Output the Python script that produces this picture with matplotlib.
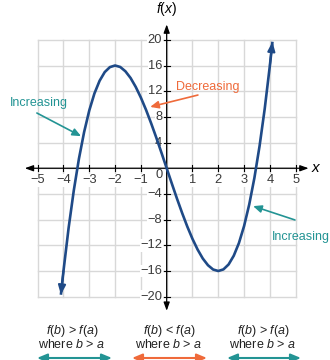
import matplotlib
matplotlib.use("Agg")
import matplotlib.pyplot as plt

plt.rcParams['font.family'] = ['Liberation Sans', 'DejaVu Sans']
plt.rcParams['mathtext.fontset'] = 'custom'
plt.rcParams['mathtext.it'] = 'Liberation Sans:italic'
plt.rcParams['mathtext.rm'] = 'Liberation Sans'

# Data
curve_x = [-4.1, -4.0, -3.8, -3.6, -3.4, -3.2, -3.0, -2.8, -2.6, -2.4, -2.2, -2.0,
           -1.8, -1.6, -1.4, -1.2, -1.0, -0.8, -0.6, -0.4, -0.2, 0.0,
           0.2, 0.4, 0.6, 0.8, 1.0, 1.2, 1.4, 1.6, 1.8, 2.0,
           2.2, 2.4, 2.6, 2.8, 3.0, 3.2, 3.4, 3.6, 3.8, 4.0, 4.1]
curve_y = [-19.7, -16.0, -9.27, -3.46, 1.50, 5.63, 9.0, 11.65, 13.62, 14.98, 15.75, 16.0,
           15.77, 15.10, 14.06, 12.67, 11.0, 9.09, 6.98, 4.74, 2.39, 0.0,
           -2.39, -4.74, -6.98, -9.09, -11.0, -12.67, -14.06, -15.10, -15.77, -16.0,
           -15.75, -14.98, -13.62, -11.65, -9.0, -5.63, -1.50, 3.46, 9.27, 16.0, 19.7]

x_ticks = [-5, -4, -3, -2, -1, 1, 2, 3, 4, 5]
y_ticks = [-20, -16, -12, -8, -4, 4, 8, 12, 16, 20]
grid_x = [-5, -4, -3, -2, -1, 0, 1, 2, 3, 4, 5]
grid_y = [-20, -16, -12, -8, -4, 0, 4, 8, 12, 16, 20]

bottom_line1 = ["$f$($b$) > $f$($a$)", "$f$($b$) < $f$($a$)", "$f$($b$) > $f$($a$)"]
bottom_line2 = ["where $b$ > $a$", "where $b$ > $a$", "where $b$ > $a$"]

navy = '#1f4a87'
teal = '#239494'
orange = '#ef6a3a'
grey = '#d8d8d8'

fig = plt.figure(figsize=(3.3, 3.6), dpi=100)
ax = fig.add_axes([0, 0, 1, 1])
ax.set_xlim(-6.46, 6.33)
ax.set_ylim(-29.86, 26.2)
ax.axis('off')

# grid
for gx in grid_x:
    ax.plot([gx, gx], [-20, 20], color=grey, lw=1, zorder=1)
for gy in grid_y:
    ax.plot([-5, 5], [gy, gy], color=grey, lw=1, zorder=1)

# axes with arrows
ax.annotate('', xy=(5.5, 0), xytext=(-5.5, 0),
            arrowprops=dict(arrowstyle='<|-|>,head_length=0.5,head_width=0.18',
                            color='black', lw=0.9, shrinkA=0, shrinkB=0), zorder=3)
ax.annotate('', xy=(0, 22.4), xytext=(0, -22.2),
            arrowprops=dict(arrowstyle='<|-|>,head_length=0.5,head_width=0.18',
                            color='black', lw=0.9, shrinkA=0, shrinkB=0), zorder=3)
for t in x_ticks:
    ax.plot([t, t], [-0.45, 0.45], color='black', lw=0.8, zorder=3)
for t in y_ticks:
    ax.plot([-0.12, 0.12], [t, t], color='black', lw=0.8, zorder=3)

fs = 9.3
for t in x_ticks:
    lab = str(t).replace('-', '\u2212')
    ax.text(t, -1.9, lab, ha='center', va='center', fontsize=fs, color='#3a3a3a',
            zorder=2, bbox=dict(facecolor='white', edgecolor='none', pad=0.3))
for t in y_ticks:
    lab = str(t).replace('-', '\u2212')
    ax.text(-0.17, t, lab, ha='right', va='center', fontsize=fs, color='#3a3a3a',
            zorder=2, bbox=dict(facecolor='white', edgecolor='none', pad=0.3))
ax.text(-0.17, -1.1, '0', ha='right', va='center', fontsize=fs, color='#3a3a3a', zorder=2)

ax.text(0.0, 23.4, '$f$($x$)', ha='center', va='bottom', fontsize=10, color='black')
ax.text(5.6, 0.1, '$x$', ha='left', va='center', fontsize=11, color='black')

# curve
ax.plot(curve_x, curve_y, color=navy, lw=1.9, zorder=4, solid_capstyle='butt')
ax.annotate('', xy=(curve_x[-1], curve_y[-1]), xytext=(curve_x[-2], curve_y[-2]),
            arrowprops=dict(arrowstyle='-|>,head_length=0.55,head_width=0.22',
                            color=navy, lw=1.5, shrinkA=0, shrinkB=0), zorder=5)
ax.annotate('', xy=(curve_x[0], curve_y[0]), xytext=(curve_x[1], curve_y[1]),
            arrowprops=dict(arrowstyle='-|>,head_length=0.55,head_width=0.22',
                            color=navy, lw=1.5, shrinkA=0, shrinkB=0), zorder=5)

# annotations
fa = 9
ax.text(-4.96, 10.2, 'Increasing', ha='center', va='center', fontsize=fa, color=teal, zorder=6)
ax.annotate('', xy=(-3.32, 5.0), xytext=(-5.03, 8.6),
            arrowprops=dict(arrowstyle='-|>,head_length=0.5,head_width=0.22',
                            color=teal, lw=1.2, shrinkA=0, shrinkB=0), zorder=6)
ax.text(1.6, 12.65, 'Decreasing', ha='center', va='center', fontsize=fa, color=orange, zorder=6)
ax.annotate('', xy=(-0.64, 9.55), xytext=(1.21, 11.4),
            arrowprops=dict(arrowstyle='-|>,head_length=0.5,head_width=0.22',
                            color=orange, lw=1.2, shrinkA=0, shrinkB=0), zorder=6)
ax.text(4.08, -10.7, 'Increasing', ha='left', va='center', fontsize=fa, color=teal, zorder=6)
ax.annotate('', xy=(3.35, -5.9), xytext=(4.97, -8.05),
            arrowprops=dict(arrowstyle='-|>,head_length=0.5,head_width=0.22',
                            color=teal, lw=1.2, shrinkA=0, shrinkB=0), zorder=6)

# bottom descriptions
centers_px = [72, 169, 263]
spans_px = [(37, 112), (132, 207), (227, 301)]
colors = [teal, orange, teal]
for cx, (a, b), c, l1, l2 in zip(centers_px, spans_px, colors, bottom_line1, bottom_line2):
    fig.text(cx / 330, 1 - 331 / 360, l1, ha='center', va='center', fontsize=fa, color='#222222')
    fig.text(cx / 330, 1 - 344 / 360, l2, ha='center', va='center', fontsize=fa, color='#222222')
    ax.annotate('', xy=(b / 330, 1 - 358 / 360), xytext=(a / 330, 1 - 358 / 360),
                xycoords='figure fraction', textcoords='figure fraction',
                arrowprops=dict(arrowstyle='<|-|>,head_length=0.6,head_width=0.25',
                                color=c, lw=1.5, shrinkA=0, shrinkB=0), annotation_clip=False)

fig.savefig('out.png', dpi=100)
